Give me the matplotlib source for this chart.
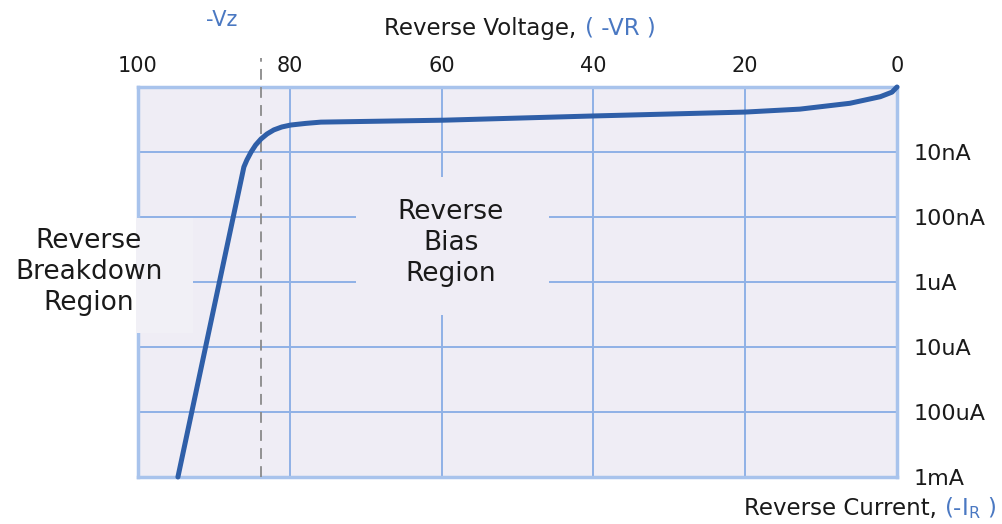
import numpy as np
import matplotlib
matplotlib.use("Agg")
import matplotlib.pyplot as plt
from matplotlib.patches import Rectangle

# Обратная ветвь ВАХ стабилитрона
voltage = [0.0, 0.66, 2.2, 6.2, 12.8, 20.0, 40.0, 59.7, 75.9, 77.9, 79.9, 81.05,
           82.1, 83.0, 83.8, 84.5, 85.1, 85.66, 86.05, 94.74]
current = [1.0e-9, 1.20e-9, 1.41e-9, 1.78e-9, 2.19e-9, 2.43e-9, 2.79e-9, 3.24e-9,
           3.47e-9, 3.63e-9, 3.85e-9, 4.12e-9, 4.57e-9, 5.28e-9, 6.31e-9, 7.8e-9,
           1.0e-8, 1.33e-8, 1.70e-8, 1.0e-3]
vz = 83.8

x_ticks = [100, 80, 60, 40, 20, 0]
y_ticks = [1e-8, 1e-7, 1e-6, 1e-5, 1e-4, 1e-3]
y_labels = ['10nA', '100nA', '1uA', '10uA', '100uA', '1mA']

bg = '#efedf5'
grid_col = '#8fb1e6'
spine_col = '#a8c3ec'
curve_col = '#2f5fa8'
blue_txt = '#4a78c2'

W, H = 1003, 524
fig = plt.figure(figsize=(W / 100, H / 100), dpi=100)
ax = fig.add_axes([138 / W, 1 - 477 / H, (897 - 138) / W, (477 - 87) / H])
ax.set_facecolor(bg)

ax.plot(voltage, current, color=curve_col, lw=3.6, solid_capstyle='round',
        solid_joinstyle='round', zorder=3, clip_on=False)
ax.axvline(vz, ymin=0, ymax=1.075, color='#8a8a8a', lw=1.3, dashes=(6, 4),
           clip_on=False, zorder=2.7)

ax.set_xlim(100, 0)
ax.set_yscale('log')
ax.set_ylim(1e-3, 1e-9)

ax.xaxis.tick_top()
ax.set_xticks(x_ticks)
ax.set_xticklabels([str(t) for t in x_ticks])
ax.yaxis.tick_right()
ax.set_yticks(y_ticks)
ax.set_yticklabels(y_labels)
ax.yaxis.set_minor_locator(matplotlib.ticker.NullLocator())
ax.tick_params(axis='x', length=0, pad=8, labelsize=15, labelcolor='#1a1a1a')
ax.tick_params(axis='y', length=0, pad=12, labelsize=16, labelcolor='#1a1a1a')

ax.set_axisbelow(True)
ax.grid(True, color=grid_col, lw=1.4)
for s in ax.spines.values():
    s.set_color(spine_col)
    s.set_linewidth(2.5)

# подложки под подписи областей, закрывают сетку (ось x перевёрнута)
ax.add_patch(Rectangle((92.76, 1.035e-7), 100.3 - 92.76, 6.1e-6 - 1.035e-7,
                       facecolor='#f1f0f6', edgecolor='none', zorder=2.6, clip_on=False))
ax.add_patch(Rectangle((45.9, 2.43e-8), 71.3 - 45.9, 3.24e-6 - 2.43e-8,
                       facecolor=bg, edgecolor='none', zorder=1))

fig.text(89 / W, 1 - 272 / H, 'Reverse\nBreakdown\nRegion', ha='center', va='center',
         fontsize=19, linespacing=1.27, color='#1a1a1a')
fig.text(451 / W, 1 - 243 / H, 'Reverse\nBias\nRegion', ha='center', va='center',
         fontsize=19, linespacing=1.27, color='#1a1a1a')

# подписи осей
fig.text(576 / W, 1 - 28 / H, 'Reverse Voltage,', ha='right', va='center',
         fontsize=16.5, color='#1a1a1a')
fig.text(585 / W, 1 - 28 / H, '( -VR )', ha='left', va='center',
         fontsize=16.5, color=blue_txt)
fig.text(222 / W, 1 - 20 / H, '-Vz', ha='center', va='center', fontsize=15, color=blue_txt)
fig.text(937 / W, 1 - 508 / H, 'Reverse Current,', ha='right', va='center',
         fontsize=16.5, color='#1a1a1a')
fig.text(944 / W, 1 - 508 / H, r'(-I$_{\mathrm{R}}$ )', ha='left', va='center',
         fontsize=16.5, color=blue_txt)

fig.savefig('out.png', dpi=100)
